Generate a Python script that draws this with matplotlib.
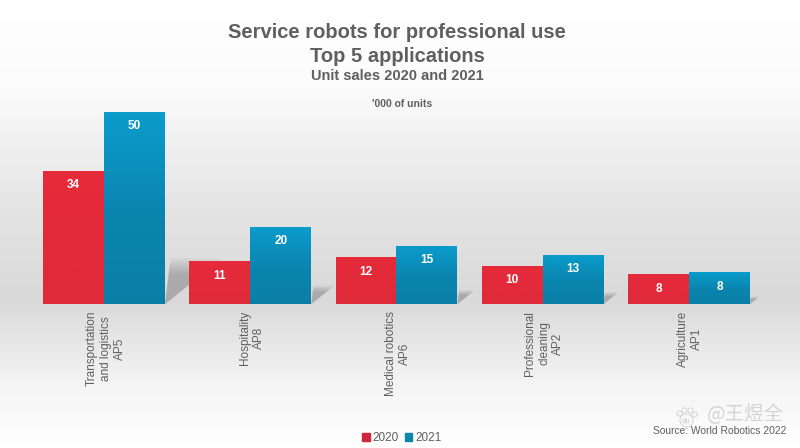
import matplotlib
matplotlib.use("Agg")
import matplotlib.pyplot as plt
import numpy as np
from matplotlib.colors import LinearSegmentedColormap
from matplotlib.patches import Polygon
from matplotlib.transforms import ScaledTranslation

categories = ["Transportation\nand logistics\nAP5", "Hospitality\nAP8", "Medical robotics\nAP6",
              "Professional\ncleaning\nAP2", "Agriculture\nAP1"]
sales_2020 = [34.5, 11, 12, 9.8, 7.6]
sales_2021 = [50, 20, 15, 12.7, 8.1]
labels_2020 = ["34", "11", "12", "10", "8"]
labels_2021 = ["50", "20", "15", "13", "8"]

plt.rcParams["font.family"] = ["Liberation Sans", "DejaVu Sans"]
grey = "#5f5f5f"
W, H = 800, 448
PX_X = 146.2  # pixels per category
PX_Y = 3.84  # pixels per thousand units

fig = plt.figure(figsize=(W / 100, H / 100), dpi=100)

# background gradient, white - grey - white
bg = fig.add_axes([0, 0, 1, 1], zorder=0)
bg_cmap = LinearSegmentedColormap.from_list("bg", [(0, "#ffffff"), (0.2, "#fbfbfb"), (0.45, "#e5e5e5"),
                                                   (0.67, "#d9d9d9"), (0.85, "#f3f3f3"), (1, "#ffffff")])
bg.imshow(np.linspace(0, 1, 256).reshape(-1, 1), aspect="auto", cmap=bg_cmap, extent=[0, 1, 0, 1], vmin=0, vmax=1)
bg.axis("off")

ax = fig.add_axes([31 / W, 1 - 304 / H, PX_X * 5 / W, 240 / H], zorder=1)
ax.patch.set_alpha(0)

x = np.arange(len(categories))
w = 61 / PX_X

red_cmap = LinearSegmentedColormap.from_list("red", ["#df2a3a", "#e62b3a"])
blue_cmap = LinearSegmentedColormap.from_list("blue", ["#0a7fa6", "#0a86b0", "#0a9ccb"])


def gradient_bars(xs, values, cmap, offset):
    bars = ax.bar(xs + offset, values, w, color="none", linewidth=0, zorder=3)
    for bar in bars:
        x0, h = bar.get_x(), bar.get_height()
        ax.imshow(np.linspace(1, 0, 64).reshape(-1, 1), aspect="auto", cmap=cmap, zorder=3,
                  extent=[x0, x0 + w, 0, h], vmin=0, vmax=1)
    return bars


# soft shadows falling back to the right of each group
for i in x:
    xr = i + w
    for k in range(7):
        h = 0.22 * sales_2021[i] * (0.72 + 0.06 * k)
        dx = 1.25 * h * PX_Y / PX_X
        off = 0.12 * h * PX_Y / PX_X
        ax.add_patch(Polygon([[xr, 0], [xr + dx, h], [xr + off, h]], closed=True,
                             facecolor="#6f6f6f", alpha=0.075, linewidth=0, zorder=2))

gradient_bars(x, sales_2020, red_cmap, -w / 2)
gradient_bars(x, sales_2021, blue_cmap, w / 2)
ax.set_xlim(-0.5, 4.5)
ax.set_ylim(0, 240 / PX_Y)

for i in x:
    ax.annotate(labels_2020[i], (i - w / 2, sales_2020[i]), xytext=(0, -10), textcoords="offset points",
                ha="center", va="center", color="white", fontsize=8.5, fontweight="bold", zorder=4)
    ax.annotate(labels_2021[i], (i + w / 2, sales_2021[i]), xytext=(0, -10), textcoords="offset points",
                ha="center", va="center", color="white", fontsize=8.5, fontweight="bold", zorder=4)

ax.set_xticks(x)
ax.set_xticklabels(categories, rotation=90, fontsize=8.5, color=grey, ha="center", va="top", ma="center",
                   linespacing=1.23)
ax.tick_params(axis="x", length=0, pad=5)
for lab in ax.get_xticklabels():
    lab.set_transform(lab.get_transform() + ScaledTranslation(1.5 / 100, 0, fig.dpi_scale_trans))
ax.set_yticks([])
for s in ax.spines.values():
    s.set_visible(False)

fig.text(397 / W, 1 - 33 / H, "Service robots for professional use", ha="center", va="center", fontsize=14.5,
         fontweight="bold", color=grey)
fig.text(397 / W, 1 - 56 / H, "Top 5 applications", ha="center", va="center", fontsize=14.5, fontweight="bold",
         color=grey)
fig.text(397 / W, 1 - 76 / H, "Unit sales 2020 and 2021", ha="center", va="center", fontsize=10.5,
         fontweight="bold", color=grey)
fig.text(402 / W, 1 - 104 / H, "'000 of units", ha="center", va="center", fontsize=7.5, fontweight="bold",
         color=grey)

handles = [plt.Rectangle((0, 0), 1, 1, color="#d0283a"), plt.Rectangle((0, 0), 1, 1, color="#0d85ab")]
fig.legend(handles, ["2020", "2021"], loc="center", bbox_to_anchor=(402 / W, 1 - 438 / H), ncol=2, frameon=False,
           fontsize=8.5, labelcolor=grey, handlelength=0.6, handleheight=0.6, handletextpad=0.25, columnspacing=0.55,
           borderpad=0)

fig.text(786 / W, 1 - 431 / H, "Source: World Robotics 2022", ha="right", va="center", fontsize=7.4, color=grey)

# watermark above the source line
fig.text(784 / W, 1 - 414 / H, "@王煜全", ha="right", va="center", fontsize=14, color="#d4d4d4",
         family=["Noto Sans CJK SC", "DejaVu Sans"])
fig.text(686 / W, 1 - 421 / H, "du", ha="center", va="center", fontsize=5.5, color="#c8c8c8")
bg.scatter([679 / W, 684 / W, 690 / W, 694 / W], [1 - 413 / H, 1 - 410 / H, 1 - 410 / H, 1 - 414 / H], s=14,
           facecolor="#f8f8f8", edgecolor="#d0d0d0", linewidth=0.6)
bg.scatter([686 / W], [1 - 420 / H], s=90, facecolor="#f8f8f8", edgecolor="#d0d0d0", linewidth=0.6)
bg.set_xlim(0, 1)
bg.set_ylim(0, 1)

fig.savefig("out.png", dpi=100)
